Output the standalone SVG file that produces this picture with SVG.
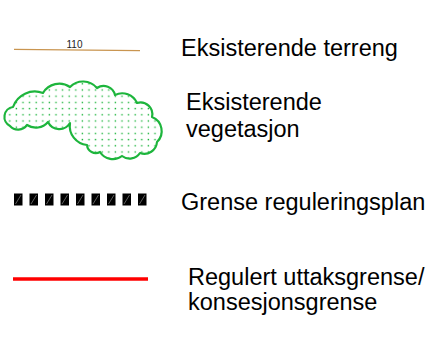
<svg xmlns="http://www.w3.org/2000/svg" width="445" height="337" viewBox="0 0 445 337">
<style>
.lbl{font-family:"Liberation Sans",Arial,sans-serif;font-size:23.5px;fill:#000}
.small{font-family:"Liberation Sans",Arial,sans-serif;font-size:10px;fill:#222}
</style>
<defs>
<pattern id="dots" x="0" y="0" width="6.6" height="6.2" patternUnits="userSpaceOnUse">
<rect x="2.5" y="2.5" width="1.4" height="1.4" fill="#1db53c"/>
</pattern>
<g id="sq">
<rect x="0" y="0" width="8.5" height="12" fill="#000"/>
<line x1="1.5" y1="10.5" x2="7" y2="1.5" stroke="#8a8a8a" stroke-width="0.7"/>
</g>
</defs>
<rect width="445" height="337" fill="#fff"/>
<g id="terreng">
<line x1="14" y1="49.4" x2="140" y2="50.6" stroke="#c99550" stroke-width="1.3"/>
<text class="small" x="66.5" y="48.3">110</text>
<text class="lbl" x="181" y="56" font-size="24.5">Eksisterende terreng</text>
</g>
<g id="vegetasjon">
<path d="M13,107 A23.1,23.1 0 0 1 43,93 A19,19 0 0 1 70,87 A18.2,18.2 0 0 1 97,88 A11.8,11.8 0 0 1 115,95 A16.2,16.2 0 0 1 137,103 A11.8,11.8 0 0 1 152,117 A15.1,15.1 0 0 1 157,142 A12.7,12.7 0 0 1 140,153 A12.4,12.4 0 0 1 122,156 A15,15 0 0 1 100,152 A8.8,8.8 0 0 1 87,145 A19.1,19.1 0 0 1 70,123 A12.5,12.5 0 0 1 48,122 A16,16 0 0 1 27,125 A11,11 0 0 1 10,126 A10.1,10.1 0 0 1 13,107 Z" fill="url(#dots)" stroke="#1db53c" stroke-width="2.2" stroke-linejoin="round"/>
<text class="lbl" x="186" y="110">Eksisterende</text>
<text class="lbl" x="186" y="137">vegetasjon</text>
</g>
<g id="grense">
<use href="#sq" x="14" y="193.5"/>
<use href="#sq" x="29.5" y="193.5"/>
<use href="#sq" x="45" y="193.5"/>
<use href="#sq" x="60.5" y="193.5"/>
<use href="#sq" x="76" y="193.5"/>
<use href="#sq" x="91.5" y="193.5"/>
<use href="#sq" x="107" y="193.5"/>
<use href="#sq" x="122.5" y="193.5"/>
<use href="#sq" x="138" y="193.5"/>
<text class="lbl" x="181" y="210">Grense reguleringsplan</text>
</g>
<g id="uttak">
<line x1="13" y1="279" x2="148" y2="279" stroke="#ff0000" stroke-width="3.6"/>
<text class="lbl" x="188" y="285">Regulert uttaksgrense/</text>
<text class="lbl" x="188" y="310">konsesjonsgrense</text>
</g>
</svg>
